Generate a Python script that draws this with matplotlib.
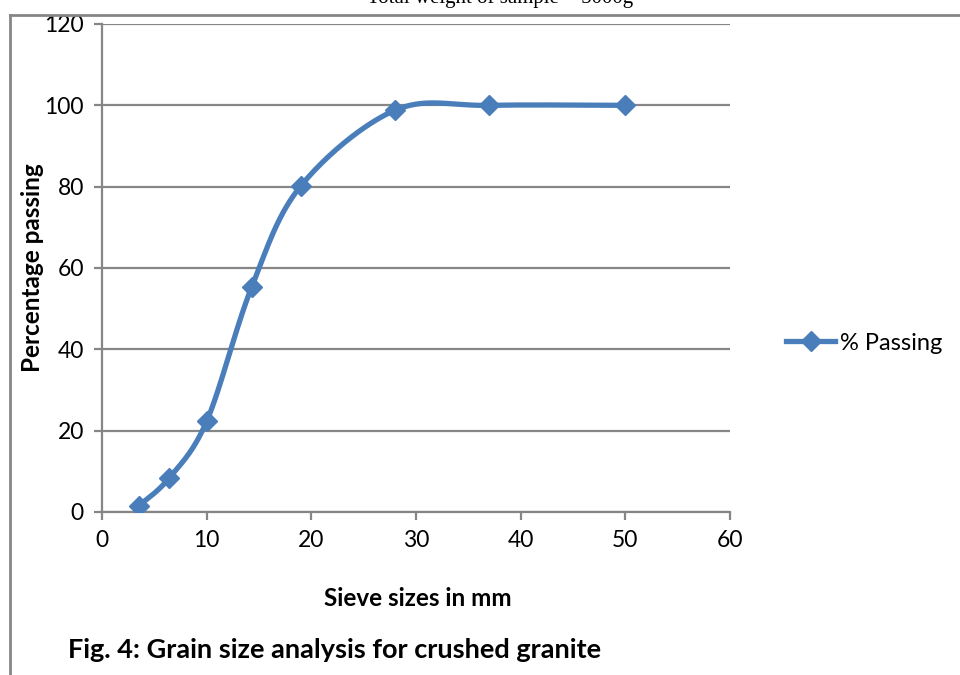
import numpy as np
import matplotlib.pyplot as plt
from matplotlib.lines import Line2D

sieve_mm = [3.5, 6.4, 10.0, 14.3, 19.0, 28.0, 37.0, 50.0]
pct_passing = [1.5, 8.3, 22.3, 55.3, 80.2, 98.8, 100.0, 100.0]
x_ticks = [0, 10, 20, 30, 40, 50, 60]
y_ticks = [0, 20, 40, 60, 80, 100, 120]

BLUE = '#4a7ebb'
GRID = '#868686'
FONT = ['Lato', 'DejaVu Sans']


def smooth_curve(xs, ys, n=40):
    # excel style smoothed line: bezier segments with catmull-rom control points
    p = np.column_stack([xs, ys]).astype(float)
    p = np.vstack([p[0], p, p[-1]])
    out = []
    t = np.linspace(0, 1, n)[:, None]
    for i in range(1, len(p) - 2):
        p0, p1, p2, p3 = p[i - 1], p[i], p[i + 1], p[i + 2]
        c1 = p1 + (p2 - p0) / 6
        c2 = p2 - (p3 - p1) / 6
        seg = ((1 - t) ** 3) * p1 + 3 * ((1 - t) ** 2) * t * c1 + 3 * (1 - t) * t ** 2 * c2 + t ** 3 * p2
        out.append(seg)
    out = np.vstack(out)
    return out[:, 0], out[:, 1]


fig = plt.figure(figsize=(9.6, 6.75), dpi=100)
ax = fig.add_axes([102 / 960, 1 - 512 / 675, 628 / 960, 488 / 675])

sx, sy = smooth_curve(sieve_mm, pct_passing)
ax.plot(sx, sy, color=BLUE, lw=3.8, solid_capstyle='round', zorder=3)
ax.plot(sieve_mm, pct_passing, ls='none', marker='D', ms=10, color=BLUE, zorder=4)

ax.set_xlim(0, 60)
ax.set_ylim(0, 120)
ax.set_xticks(x_ticks)
ax.set_yticks(y_ticks)
ax.yaxis.grid(True, color=GRID, lw=1.6)
ax.set_axisbelow(True)
for s in ['top', 'right']:
    ax.spines[s].set_visible(False)
for s in ['left', 'bottom']:
    ax.spines[s].set_color(GRID)
    ax.spines[s].set_linewidth(1.6)
ax.tick_params(axis='both', direction='out', length=6, width=1.6, color=GRID,
               labelsize=16.5, pad=7)
for lab in ax.get_xticklabels() + ax.get_yticklabels():
    lab.set_family(FONT)

# chart texts
fig.text(33 / 960, 1 - 268 / 675, 'Percentage passing', rotation=90, ha='center', va='center',
         fontsize=17.5, fontweight='bold', family=FONT)
fig.text(418 / 960, 1 - 598 / 675, 'Sieve sizes in mm', ha='center', va='center',
         fontsize=17.5, fontweight='bold', family=FONT)
fig.text(68 / 960, 1 - 650 / 675, 'Fig. 4: Grain size analysis for crushed granite', ha='left', va='center',
         fontsize=19.5, fontweight='bold', family=FONT)

handle = Line2D([], [], color=BLUE, lw=3.8, marker='D', ms=10)
fig.legend([handle], ['% Passing'], loc='center left', bbox_to_anchor=(781 / 960, 1 - 343 / 675),
           frameon=False, prop={'family': FONT, 'size': 17}, handlelength=2.1, handletextpad=0.2,
           borderpad=0.2, borderaxespad=0)

# page border and cut-off text above the figure
fig.add_artist(Line2D([10 / 960, 10 / 960], [0, 1 - 15 / 675], color=GRID, lw=2))
fig.add_artist(Line2D([10 / 960, 1], [1 - 15 / 675, 1 - 15 / 675], color=GRID, lw=2))
fig.text(500 / 960, 1 - 3 / 675, 'Total weight of sample = 5000g', ha='center', va='baseline',
         fontsize=15, family='Liberation Serif')

fig.savefig('out.png', dpi=100)
